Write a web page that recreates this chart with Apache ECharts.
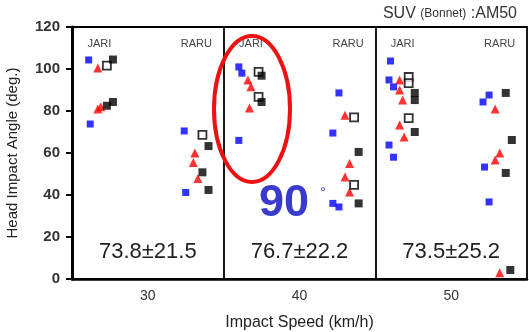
<!DOCTYPE html>
<html>
<head>
<meta charset="utf-8">
<script src="https://cdn.jsdelivr.net/npm/echarts@6/dist/echarts.min.js"></script>
<style>
  html, body { margin: 0; padding: 0; background: #fff; }
  #chart { width: 529px; height: 332px; }
</style>
</head>
<body>
<div id="chart"></div>
<script>
// impact speed (km/h) categories and group labels
var speedTicks = [30, 40, 50];
var panelEdges = [35, 45];
var groupLabels = ['JARI', 'RARU'];
var meanLabels = ['73.8±21.5', '76.7±22.2', '73.5±25.2'];

// [speed position, head impact angle]
var bluePoints = [
  [26.1, 104.3], [26.2, 73.8], [32.4, 70.5], [32.5, 41.2],
  [36.0, 101], [36.2, 98], [36.0, 66],
  [42.6, 88.6], [42.2, 69.5], [42.2, 36], [42.6, 34.3],
  [46.0, 103.8], [45.9, 94.8], [46.2, 91.5], [45.9, 63.8], [46.2, 58],
  [52.5, 87.6], [52.1, 84.3], [52.2, 53.3], [52.5, 36.7]
];
var redPoints = [
  [26.7, 100.5], [26.7, 81], [26.9, 82],
  [33.1, 60], [33.0, 55.5], [33.3, 47.8],
  [36.6, 94.8], [36.8, 91.5], [36.7, 81.4],
  [43.0, 78], [43.3, 55], [43.0, 48.6], [43.3, 41.4],
  [46.6, 94.8], [46.6, 90], [46.8, 85.2], [46.6, 73.3], [46.9, 67.6],
  [52.9, 81], [53.2, 60], [52.9, 56.7], [53.2, 3]
];
var openPoints = [
  [27.3, 101.6], [33.6, 68.6],
  [37.3, 98.6], [37.3, 86.7],
  [43.6, 77], [43.6, 44.8],
  [47.2, 96.2], [47.2, 93.3], [47.2, 76.6]
];
var filledPoints = [
  [27.7, 104.5], [27.3, 82.5], [27.7, 84.3],
  [34.0, 63.3], [33.6, 50.8], [34.0, 42.4],
  [37.5, 96.8], [37.5, 84.3],
  [43.9, 60.5], [43.9, 36],
  [47.6, 88.6], [47.6, 85.2], [47.6, 70],
  [53.6, 88.6], [54.0, 66.2], [53.6, 50.5], [53.9, 4.3]
];

var chart = echarts.init(document.getElementById('chart'));

function pointSeries(name, data, symbol, size, style) {
  return {
    name: name,
    type: 'scatter',
    data: data,
    symbol: symbol,
    symbolSize: size,
    itemStyle: style,
    z: 3
  };
}

var textMarks = [];
speedTicks.forEach(function (s) {
  textMarks.push({ coord: [s - 3.2, 112], value: groupLabels[0] });
  textMarks.push({ coord: [s + 3.2, 112], value: groupLabels[1] });
});
var meanMarks = speedTicks.map(function (s, i) {
  return {
    coord: [s, 13], value: meanLabels[i],
    label: { fontSize: 22, color: '#222' }
  };
});

var option = {
  animation: false,
  grid: {
    left: 72, top: 27, right: 2, bottom: 53,
    outerBoundsMode: 'none',
    containLabel: false,
    show: true, borderColor: '#000', borderWidth: 1.8
  },
  xAxis: {
    type: 'value',
    min: 25, max: 55, interval: 5,
    name: 'Impact Speed (km/h)',
    nameLocation: 'middle',
    nameGap: 36,
    nameTextStyle: { fontSize: 16, color: '#222', fontFamily: 'Liberation Sans' },
    axisLine: { lineStyle: { color: '#000', width: 2.5 } },
    axisTick: { show: false },
    splitLine: { show: false },
    axisLabel: {
      fontSize: 14, color: '#333', fontFamily: 'Liberation Sans', margin: 10,
      formatter: function (v) { return speedTicks.indexOf(v) >= 0 ? String(v) : ''; }
    }
  },
  yAxis: {
    type: 'value',
    min: 0, max: 120, interval: 20,
    name: 'Head Impact Angle (deg.)',
    nameLocation: 'middle',
    nameGap: 52,
    nameTextStyle: { fontSize: 15, color: '#222', fontFamily: 'Liberation Sans' },
    axisLine: { show: true, lineStyle: { color: '#000', width: 3 } },
    axisTick: { show: true, length: 6, lineStyle: { color: '#000', width: 2 } },
    splitLine: { show: false },
    axisLabel: { fontSize: 15, fontWeight: 'bold', color: '#333', fontFamily: 'Liberation Sans', margin: 12 }
  },
  series: [
    {
      type: 'scatter',
      data: [],
      silent: true,
      markLine: {
        silent: true,
        symbol: 'none',
        label: { show: false },
        lineStyle: { color: '#000', width: 1.8, type: 'solid' },
        data: panelEdges.map(function (e) { return { xAxis: e }; })
      },
      markPoint: {
        symbol: 'rect',
        symbolSize: 1,
        itemStyle: { color: 'rgba(0,0,0,0)' },
        label: {
          show: true, position: 'inside',
          fontSize: 11, color: '#444', fontFamily: 'Liberation Sans',
          formatter: function (p) { return p.value; }
        },
        data: textMarks.concat(meanMarks)
      }
    },
    pointSeries('blue', bluePoints, 'rect', 7, { color: '#0000ff' }),
    pointSeries('red', redPoints, 'triangle', 9, { color: '#ff0000' }),
    pointSeries('open', openPoints, 'rect', 8, { color: '#fff', borderColor: '#000', borderWidth: 1.8 }),
    pointSeries('filled', filledPoints, 'rect', 8, { color: '#000' })
  ],
  graphic: [
    {
      type: 'text',
      right: 12, top: 6,
      style: {
        text: '{a|SUV }{b|(Bonnet)}{a| :AM50}',
        rich: {
          a: { fontSize: 16, fill: '#333', fontFamily: 'Liberation Sans' },
          b: { fontSize: 12, fill: '#333', fontFamily: 'Liberation Sans' }
        }
      }
    },
    {
      type: 'ellipse',
      shape: { cx: 252, cy: 109, rx: 38, ry: 73 },
      style: { fill: 'none', stroke: '#ee1111', lineWidth: 4 },
      z: 10
    },
    {
      type: 'text',
      x: 259, y: 181,
      style: { text: '90', fontSize: 45, fontWeight: 'bold', fill: '#3a3acc', fontFamily: 'Liberation Sans' },
      z: 10
    },
    {
      type: 'text',
      x: 320, y: 185,
      style: { text: '°', fontSize: 15, fill: '#3a3acc', fontFamily: 'Liberation Sans' },
      z: 10
    }
  ]
};

chart.setOption(option);
</script>
</body>
</html>
